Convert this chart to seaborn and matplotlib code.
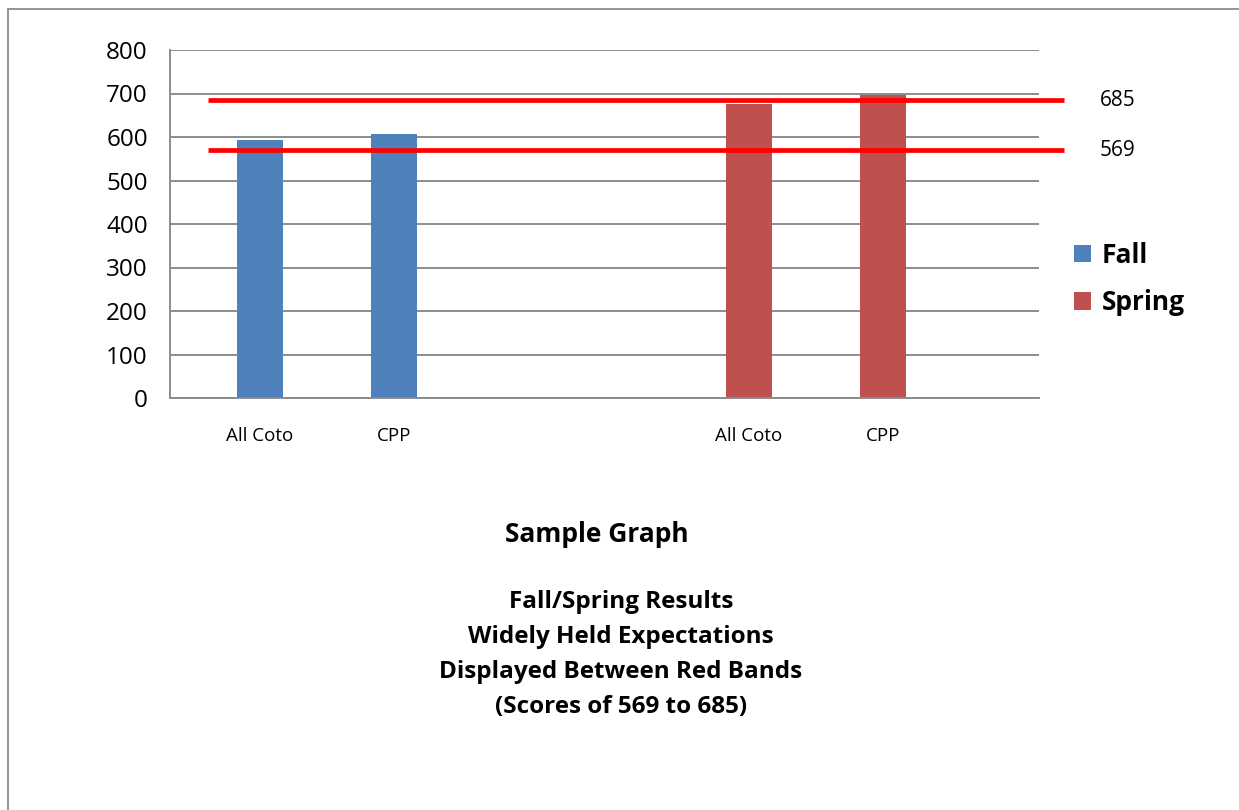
import matplotlib
matplotlib.use("Agg")
import matplotlib.pyplot as plt
import seaborn as sns
import pandas as pd
from matplotlib.lines import Line2D
from matplotlib.patches import Patch

# ---- data ----
groups = ["All Coto", "CPP", "All Coto", "CPP"]
seasons = ["Fall", "Fall", "Spring", "Spring"]
scores = [593, 606, 675, 696]
band_high = 685
band_low = 569
y_ticks = [0, 100, 200, 300, 400, 500, 600, 700, 800]

# ---- layout ----
slot = [0.672, 1.672, 4.321, 5.321]   # horizontal slot of each bar
x_span = (0, 6.485)
band_span = (0.284, 6.672)
band_label_x = 6.94

season_colors = {"Fall": "#4F81BD", "Spring": "#C0504D"}
grid_gray = "#8c8c8c"

sns.set_theme(style="white")
plt.rcParams["font.family"] = ["Open Sans", "DejaVu Sans"]
plt.rcParams["text.color"] = "black"

W, H = 1239, 810
fig = plt.figure(figsize=(W / 100, H / 100), dpi=100)
ax = fig.add_axes([170 / W, (H - 398) / H, (1039 - 170) / W, (398 - 50) / H])

df = pd.DataFrame({"slot": slot, "score": scores, "season": seasons, "group": groups})
sns.barplot(data=df, x="slot", y="score", hue="season", native_scale=True,
            dodge=False, width=0.343, palette=season_colors, ax=ax,
            legend=False, linewidth=0, saturation=1)

ax.set_xlim(*x_span)
ax.set_ylim(0, 800)
ax.set_yticks(y_ticks)
ax.set_yticklabels([str(v) for v in y_ticks], fontsize=17.5, color="black")
ax.set_xticks(slot)
ax.set_xticklabels(groups, fontsize=13.5, color="black")
ax.tick_params(axis="x", length=0, pad=21)
ax.tick_params(axis="y", length=7, width=1.4, color=grid_gray, direction="out", pad=9)
ax.set_xlabel("")
ax.set_ylabel("")

ax.yaxis.grid(True, color=grid_gray, linewidth=1.4)
ax.xaxis.grid(False)
ax.set_axisbelow(True)
for side in ["top", "right"]:
    ax.spines[side].set_visible(False)
for side in ["left", "bottom"]:
    ax.spines[side].set_visible(True)
    ax.spines[side].set_color(grid_gray)
    ax.spines[side].set_linewidth(1.4)

# expectation band edges
for val in (band_high, band_low):
    ax.plot(band_span, [val, val], color="#FF0000", linewidth=3.4,
            solid_capstyle="butt", clip_on=False, zorder=5)
    ax.text(band_label_x, val, str(val), fontsize=15, va="center", ha="left",
            color="black", clip_on=False)

# legend
handles = [Patch(facecolor=season_colors[s], edgecolor="none") for s in ["Fall", "Spring"]]
leg = fig.legend(handles, ["Fall", "Spring"], loc="center left",
                 bbox_to_anchor=(1050 / W, 1 - 279 / H), frameon=False,
                 prop={"size": 19, "weight": "bold"}, handlelength=0.65,
                 handleheight=0.65, handletextpad=0.4, labelspacing=0.78)
for t in leg.get_texts():
    t.set_color("black")

# caption block
fig.text(597 / W, 1 - 534 / H, "Sample Graph", ha="center", va="center",
         fontsize=19, fontweight="bold")
caption = ["Fall/Spring Results", "Widely Held Expectations",
           "Displayed Between Red Bands", "(Scores of 569 to 685)"]
for i, line in enumerate(caption):
    fig.text(621 / W, 1 - (602 + 35 * i) / H, line, ha="center", va="center",
             fontsize=17.5, fontweight="bold")

# outer frame
frame_kw = dict(color="#8c8c8c", linewidth=1.3, transform=fig.transFigure)
fig.add_artist(Line2D([8 / W, 8 / W], [1 - 9 / H, 0], **frame_kw))
fig.add_artist(Line2D([8 / W, 1], [1 - 9 / H, 1 - 9 / H], **frame_kw))

fig.savefig("out.png", dpi=100, facecolor="white")
